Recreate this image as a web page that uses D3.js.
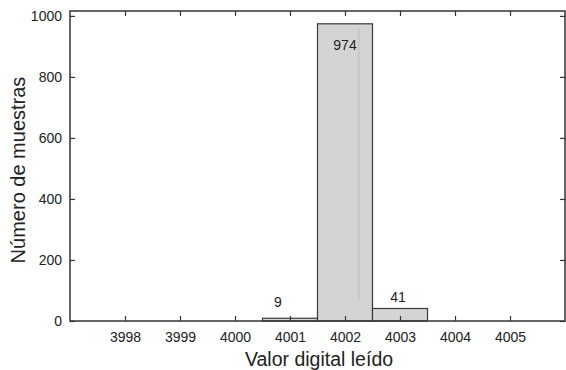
<!DOCTYPE html>
<html>
<head>
<meta charset="utf-8">
<script src="https://cdn.jsdelivr.net/npm/d3@7"></script>
<style>
    body { margin: 0; background: #fff; }
    text { font-family: Arial, "Liberation Sans", sans-serif; fill: #222; }
</style>
</head>
<body>
<div id="chart"></div>
<script>
// histogram data
const values = [3998, 3999, 4000, 4001, 4002, 4003, 4004, 4005]
const counts = [0, 0, 0, 9, 974, 41, 0, 0]
const yTicks = [0, 200, 400, 600, 800, 1000]
const xLabel = "Valor digital leído"
const yLabel = "Número de muestras"

const W = 566, H = 370
const margin = { top: 11, right: 1, bottom: 49, left: 70 }
const width = W - margin.left - margin.right
const height = H - margin.top - margin.bottom

const svg = d3.select('#chart')
    .append('svg')
    .attr('width', W)
    .attr('height', H)

const g = svg.append('g')
    .attr('transform', `translate(${margin.left}, ${margin.top})`)

const x = d3.scaleLinear()
    .domain([3997, 4006])
    .range([0, width])
const y = d3.scaleLinear()
    .domain([0, 1016])
    .range([height, 0])

const data = values.map((v, i) => ({ value: v, count: counts[i] }))

// bars
g.selectAll('rect.bar')
    .data(data.filter(d => d.count > 0))
    .join('rect')
    .attr('class', 'bar')
    .attr('x', d => x(d.value - 0.5))
    .attr('width', d => x(d.value + 0.5) - x(d.value - 0.5))
    .attr('y', d => y(d.count))
    .attr('height', d => height - y(d.count))
    .attr('fill', '#d4d4d4')
    .attr('stroke', '#3a3a3a')
    .attr('stroke-width', 1.2)

// faint streak inside the tall bar
g.append('line')
    .attr('x1', x(4002.25)).attr('x2', x(4002.25))
    .attr('y1', y(960)).attr('y2', y(70))
    .attr('stroke', '#c6c6c6')
    .attr('stroke-width', 2)

// value labels
g.selectAll('text.val')
    .data(data.filter(d => d.count > 0))
    .join('text')
    .attr('class', 'val')
    .attr('text-anchor', 'middle')
    .attr('font-size', 14)
    .attr('x', d => x(d.value) - (d.count > 500 ? 0 : 12 - (d.value - 4001) * 5))
    .attr('y', d => d.count > 500 ? y(d.count) + 26 : y(d.count) - (d.count > 20 ? 6 : 11))
    .text(d => d.count)

// axes, ticks pointing inward
const tickLen = 5
const axBottom = g.append('g')
    .attr('transform', `translate(0, ${height})`)
    .call(d3.axisBottom(x).tickValues(values).tickFormat(d3.format('d')).tickSizeInner(-tickLen).tickSizeOuter(0).tickPadding(11))
const axTop = g.append('g')
    .call(d3.axisTop(x).tickValues(values).tickFormat('').tickSizeInner(-tickLen).tickSizeOuter(0))
const axLeft = g.append('g')
    .call(d3.axisLeft(y).tickValues(yTicks).tickFormat(d3.format('d')).tickSizeInner(-tickLen).tickSizeOuter(0).tickPadding(8))
const axRight = g.append('g')
    .attr('transform', `translate(${width}, 0)`)
    .call(d3.axisRight(y).tickValues(yTicks).tickFormat('').tickSizeInner(-tickLen).tickSizeOuter(0))

for (const ax of [axBottom, axTop, axLeft, axRight]) {
    ax.select('.domain').remove()
    ax.selectAll('line').attr('stroke', '#333').attr('stroke-width', 1.2)
    ax.selectAll('text').attr('font-size', 14).attr('fill', '#222')
}

// frame
g.append('rect')
    .attr('x', 0).attr('y', 0)
    .attr('width', width).attr('height', height)
    .attr('fill', 'none')
    .attr('stroke', '#333')
    .attr('stroke-width', 1.5)

// axis titles
svg.append('text')
    .attr('x', 319)
    .attr('y', 366)
    .attr('text-anchor', 'middle')
    .attr('font-size', 19.5)
    .text(xLabel)

svg.append('text')
    .attr('transform', `translate(25, ${margin.top + height / 2 + 4}) rotate(-90)`)
    .attr('text-anchor', 'middle')
    .attr('font-size', 20)
    .text(yLabel)
</script>
</body>
</html>
